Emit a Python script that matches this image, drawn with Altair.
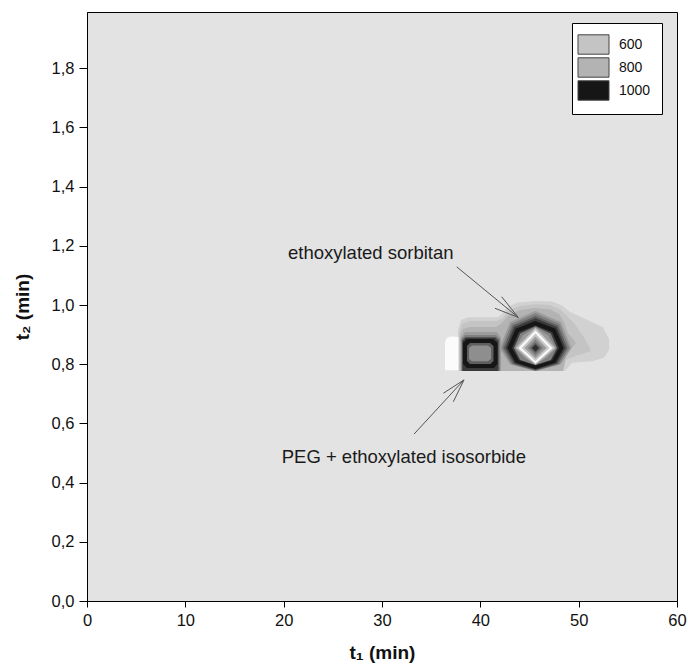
import altair as alt
import pandas as pd

# ---------------- data ----------------
# Contour outlines (t1 [min], t2 [min]), drawn outermost first.
HALO_1 = [(37.73, 0.777), (37.73, 0.916), (38.03, 0.949), (38.75, 0.959), (41.8, 0.959),
          (42.31, 0.973), (42.71, 0.993), (43.73, 1.008), (45.56, 1.014), (47.29, 1.012),
          (48.31, 0.998), (49.12, 0.976), (50.85, 0.950), (52.47, 0.925), (53.09, 0.885),
          (53.09, 0.848), (52.58, 0.822), (51.36, 0.810), (49.32, 0.805), (48.61, 0.777)]
HALO_2 = [(37.83, 0.777), (37.83, 0.905), (38.14, 0.936), (38.95, 0.946), (41.69, 0.946),
          (42.31, 0.956), (42.81, 0.98), (44.03, 0.997), (45.56, 1.003), (47.08, 1.0),
          (48.1, 0.986), (48.81, 0.963), (49.63, 0.935), (50.65, 0.885), (51.26, 0.845),
          (50.65, 0.838), (49.63, 0.828), (48.71, 0.814), (48.41, 0.777)]
HALO_3 = [(37.93, 0.777), (37.93, 0.895), (38.24, 0.919), (38.95, 0.926), (41.59, 0.926),
          (42.2, 0.939), (42.81, 0.963), (44.03, 0.983), (45.56, 0.99), (47.08, 0.986),
          (48.0, 0.970), (48.51, 0.943), (48.92, 0.905), (49.73, 0.872), (49.12, 0.848),
          (48.71, 0.828), (48.41, 0.777)]
WHITE_PATCH = [(36.41, 0.780), (36.41, 0.875), (36.61, 0.889), (37.02, 0.894),
               (37.78, 0.892), (37.78, 0.780)]

# left peak (PEG + ethoxylated isosorbide)
L_4 = [(38.03, 0.777), (38.03, 0.889), (38.44, 0.909), (41.69, 0.909), (42.1, 0.889), (42.1, 0.777)]
L_5 = [(38.08, 0.777), (38.08, 0.885), (38.44, 0.899), (41.59, 0.899), (42.0, 0.885), (42.0, 0.777)]
L_6 = [(38.14, 0.777), (38.14, 0.882), (38.49, 0.892), (41.54, 0.892), (41.9, 0.882), (41.9, 0.777)]
L_7 = [(38.19, 0.777), (38.19, 0.878), (38.49, 0.889), (41.49, 0.889), (41.8, 0.878), (41.8, 0.777)]
L_8 = [(38.24, 0.801), (38.24, 0.872), (38.64, 0.885), (41.29, 0.885), (41.75, 0.872),
       (41.75, 0.801), (41.39, 0.787), (38.64, 0.787)]
L_6IN = [(38.64, 0.811), (38.64, 0.8615), (38.95, 0.872), (40.98, 0.872), (41.34, 0.8615),
         (41.34, 0.811), (41.03, 0.801), (38.95, 0.801)]
L_CORE = [(38.85, 0.818), (38.85, 0.855), (39.15, 0.863), (40.78, 0.863), (41.09, 0.855),
          (41.09, 0.818), (40.78, 0.81), (39.15, 0.81)]

# right peak (ethoxylated sorbitan)
R_4 = [(49.27, 0.855), (48.2, 0.943), (45.61, 0.980), (43.02, 0.943), (41.95, 0.855),
       (43.02, 0.800), (45.61, 0.777), (48.2, 0.800)]
R_5 = [(49.07, 0.855), (48.06, 0.937), (45.61, 0.972), (43.16, 0.937), (42.15, 0.855),
       (43.16, 0.800), (45.61, 0.777), (48.06, 0.800)]
R_6 = [(48.86, 0.855), (47.91, 0.931), (45.61, 0.963), (43.31, 0.931), (42.36, 0.855),
       (43.31, 0.801), (45.61, 0.779), (47.91, 0.801)]
R_7 = [(48.66, 0.855), (47.77, 0.926), (45.61, 0.955), (43.45, 0.926), (42.56, 0.855),
       (43.45, 0.803), (45.61, 0.781), (47.77, 0.803)]
R_8 = [(48.46, 0.855), (47.63, 0.920), (45.61, 0.946), (43.59, 0.920), (42.76, 0.855),
       (43.59, 0.805), (45.61, 0.784), (47.63, 0.805)]
R_7IN = [(48.0, 0.855), (47.3, 0.909), (45.61, 0.931), (43.92, 0.909), (43.22, 0.855),
         (43.92, 0.813), (45.61, 0.796), (47.3, 0.813)]
R_5IN = [(47.8, 0.855), (47.16, 0.904), (45.61, 0.928), (44.06, 0.904), (43.42, 0.855),
         (44.06, 0.814), (45.61, 0.797), (47.16, 0.814)]
R_4IN = [(47.7, 0.855), (46.9, 0.897), (45.61, 0.925), (44.32, 0.897), (43.52, 0.855),
         (44.5, 0.822), (45.61, 0.798), (46.72, 0.822)]
R_H1 = [(47.59, 0.855), (45.61, 0.9226), (43.63, 0.855), (45.61, 0.799)]
R_W = [(47.34, 0.855), (45.61, 0.9141), (43.88, 0.855), (45.61, 0.8026)]
R_H2 = [(47.03, 0.855), (45.61, 0.904), (44.19, 0.855), (45.61, 0.8111)]
R_D4 = [(46.73, 0.855), (45.61, 0.8939), (44.49, 0.855), (45.61, 0.8195)]
R_D5 = [(46.42, 0.855), (45.61, 0.8837), (44.8, 0.855), (45.61, 0.828)]
R_D6 = [(46.17, 0.855), (45.61, 0.8736), (45.05, 0.855), (45.61, 0.8364)]
R_CORE = [(45.97, 0.855), (45.61, 0.8668), (45.25, 0.855), (45.61, 0.8432)]

CONTOURS = [
    ("1", HALO_1), ("2", HALO_2), ("3", HALO_3), ("w", WHITE_PATCH),
    ("4", L_4), ("4", R_4), ("5", L_5), ("5", R_5), ("6", L_6), ("6", R_6),
    ("7", L_7), ("7", R_7), ("8", L_8), ("8", R_8),
    ("6", L_6IN), ("g", L_CORE),
    ("7", R_7IN), ("5", R_5IN), ("4", R_4IN), ("h", R_H1), ("w", R_W), ("h", R_H2),
    ("4", R_D4), ("5", R_D5), ("6", R_D6), ("c", R_CORE),
]

LEVELS = ["1", "2", "3", "4", "5", "6", "7", "8", "g", "h", "w", "c"]
GRAYS = ["#d1d1d1", "#c4c4c4", "#b3b3b3", "#9c9c9c", "#808080", "#5f5f5f",
         "#3b3b3b", "#161616", "#8e8e8e", "#c8c8c8", "#fbfbfb", "#2e2e2e"]
LEGEND_LEVELS = ["2", "3", "8"]
LEGEND_LABELS = ["600", "800", "1000"]

# annotation arrows (t1, t2 of both ends of each stroke)
SEG_X1 = [37.6, 42.17, 41.49, 33.26, 36.24, 37.25]
SEG_Y1 = [1.129, 1.028, 0.989, 0.564, 0.702, 0.673]
SEG_X2 = [43.86, 43.86, 43.86, 38.34, 38.34, 38.34]
SEG_Y2 = [0.958, 0.958, 0.958, 0.747, 0.747, 0.747]

LABELS = ["ethoxylated sorbitan", "PEG + ethoxylated isosorbide"]
LABEL_T1 = [20.44, 19.8]
LABEL_T2 = [1.154, 0.465]

X_TICKS = [0, 10, 20, 30, 40, 50, 60]
Y_TICKS = [0.0, 0.2, 0.4, 0.6, 0.8, 1.0, 1.2, 1.4, 1.6, 1.8]

# ---------------- tables ----------------
rows = []
for pid, (lev, verts) in enumerate(CONTOURS):
    for k, (a, b) in enumerate(verts):
        rows.append({"poly": pid, "ord": k, "t1": a, "t2": b, "lev": lev})
poly_df = pd.DataFrame(rows)

seg_df = pd.DataFrame({"x1": SEG_X1, "y1": SEG_Y1, "x2": SEG_X2, "y2": SEG_Y2})
lab_df = pd.DataFrame({"t1": LABEL_T1, "t2": LABEL_T2, "label": LABELS})

FONT = "Liberation Sans"
xs = alt.Scale(domain=[0, 60], nice=False, zero=False)
ys = alt.Scale(domain=[0, 1.99], nice=False, zero=False)
xa = alt.Axis(values=X_TICKS, format="d", title="t₁ (min)", tickSize=6, labelPadding=5,
              titlePadding=15, grid=False, labelFlush=False, labelOverlap=False)
ya = alt.Axis(values=Y_TICKS, labelExpr="replace(format(datum.value, '.1f'), '.', ',')",
              title="t₂ (min)", tickSize=8, labelPadding=5, titlePadding=19, grid=False,
              labelOverlap=False)

cscale = alt.Scale(domain=LEVELS, range=GRAYS)
# trailing blanks widen the legend box like the reference's
label_expr = " : ".join(
    f"datum.label == '{k}' ? '{v}'" for k, v in zip(LEGEND_LEVELS[:-1], LEGEND_LABELS[:-1])
) + f" : '{LEGEND_LABELS[-1]}   '"

contours = alt.Chart(poly_df).mark_line(filled=True, interpolate="linear-closed").encode(
    x=alt.X("t1:Q", scale=xs, axis=xa),
    y=alt.Y("t2:Q", scale=ys, axis=ya),
    detail="poly:N",
    order=alt.Order("ord:Q"),
    color=alt.Color("lev:N", scale=cscale, legend=alt.Legend(
        values=LEGEND_LEVELS, labelExpr=label_expr, title=None, orient="none",
        legendX=485, legendY=11, symbolType="M-1.6,-1H1.6V1H-1.6Z", symbolSize=376,
        symbolStrokeColor="#444", symbolStrokeWidth=1, symbolOpacity=1,
        labelFont=FONT, labelFontSize=14, labelColor="#111", labelOffset=15,
        rowPadding=-8, padding=11, strokeColor="black", fillColor="white")),
)

arrows = alt.Chart(seg_df).mark_rule(color="#555", strokeWidth=1).encode(
    x=alt.X("x1:Q", scale=xs, axis=xa),
    y=alt.Y("y1:Q", scale=ys, axis=ya),
    x2="x2:Q",
    y2="y2:Q",
)

texts = alt.Chart(lab_df).mark_text(align="left", baseline="alphabetic", font=FONT,
                                    fontSize=18.5, color="#1a1a1a").encode(
    x=alt.X("t1:Q", scale=xs, axis=xa),
    y=alt.Y("t2:Q", scale=ys, axis=ya),
    text="label:N",
)

chart = alt.layer(contours, arrows, texts).properties(
    width=590, height=589,
    autosize=alt.AutoSizeParams(type="none"),
    padding={"left": 87, "top": 12, "right": 11, "bottom": 66},
    background="white",
).configure_axis(
    domainColor="black", tickColor="black", labelFont=FONT, labelFontSize=16.5,
    labelColor="#111", titleFont=FONT, titleFontSize=19, titleFontWeight="bold",
    titleColor="#111",
).configure_view(fill="#e3e3e3", stroke="black", strokeWidth=1)

chart.save("out.html", embed_options={"renderer": "svg", "actions": False})
